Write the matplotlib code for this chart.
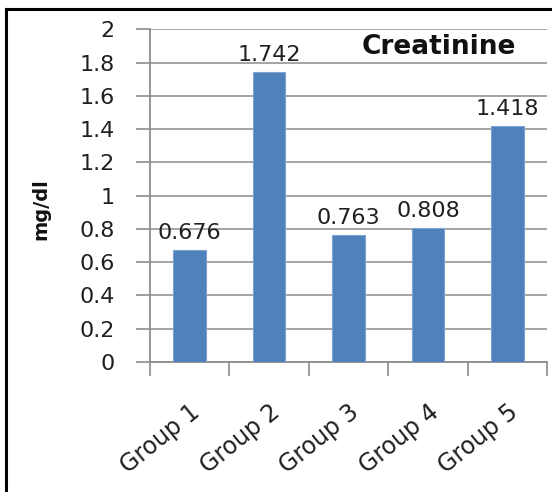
import matplotlib
matplotlib.use("Agg")
import matplotlib.pyplot as plt
from matplotlib.lines import Line2D

categories = ["Group 1", "Group 2", "Group 3", "Group 4", "Group 5"]
values = [0.676, 1.742, 0.763, 0.808, 1.418]
labels = ["0.676", "1.742", "0.763", "0.808", "1.418"]
yticks = [0, 0.2, 0.4, 0.6, 0.8, 1, 1.2, 1.4, 1.6, 1.8, 2]
yticklabels = ["0", "0.2", "0.4", "0.6", "0.8", "1", "1.2", "1.4", "1.6", "1.8", "2"]

plt.rcParams['font.family'] = ['DejaVu Sans']

W, H = 552, 492
fig = plt.figure(figsize=(W / 100, H / 100), dpi=100)
ax = fig.add_axes([150 / W, 1 - 362 / H, 397 / W, (362 - 29.3) / H])

x = list(range(len(categories)))
ax.bar(x, values, width=0.41, color="#4F81BD", edgecolor="#7FA3D0", linewidth=0.8, zorder=3)
ax.set_xlim(-0.5, len(categories) - 0.5)
ax.set_ylim(0, 2)
ax.set_yticks(yticks)
ax.set_yticklabels(yticklabels)
ax.set_xticks([i - 0.5 for i in range(len(categories) + 1)])
ax.set_xticklabels([])
ax.set_xticks(x, minor=True)
ax.set_xticklabels(categories, minor=True, rotation=39, ha="right", va="top",
                   rotation_mode="anchor", fontsize=17, color="#202020")
ax.tick_params(axis="x", which="minor", length=0, pad=27)
ax.tick_params(axis="x", which="major", length=10, width=1.2, color="#8C8C8C", direction="out")
ax.tick_params(axis="y", length=10, width=1.2, color="#8C8C8C", direction="out",
               labelsize=16, pad=15.5, labelcolor="#202020")

ax.grid(axis="y", color="#8C8C8C", linewidth=1.1, zorder=0)
for s in ["top", "right"]:
    ax.spines[s].set_visible(False)
for s in ["left", "bottom"]:
    ax.spines[s].set_color("#8C8C8C")
    ax.spines[s].set_linewidth(1.3)

for xi, v, lab in zip(x, values, labels):
    ax.annotate(lab, (xi, v), xytext=(0, 5), textcoords="offset points",
                ha="center", va="bottom", fontsize=16, color="#202020")

ax.set_ylabel("mg/dl", fontsize=14, fontweight="bold", color="#111111")
ax.yaxis.set_label_coords(-100 / 397, 0.46)
fig.text(439 / W, 1 - 47 / H, "Creatinine", ha="center", va="center",
         fontsize=19, fontweight="bold", color="#111111")

fig.add_artist(Line2D([6 / W, 6 / W], [0, 1 - 9 / H], transform=fig.transFigure, color="black", linewidth=2.2))
fig.add_artist(Line2D([6 / W, 1], [1 - 9 / H, 1 - 9 / H], transform=fig.transFigure, color="black", linewidth=2.2))

fig.savefig("out.png", dpi=100)
